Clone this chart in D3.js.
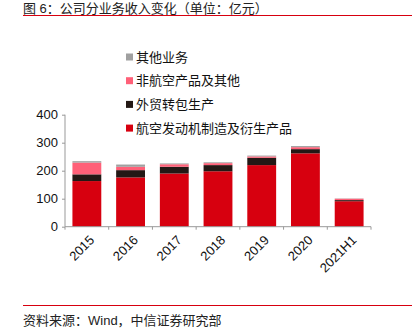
<!DOCTYPE html>
<html><head><meta charset="utf-8">
<script src="https://cdn.jsdelivr.net/npm/d3@7"></script>
<style>
html,body{margin:0;padding:0;background:#fff;}
svg{display:block;font-family:"Liberation Sans",Arial,"Noto Sans CJK SC",sans-serif;}
</style></head>
<body>
<script>
const categories = ["2015","2016","2017","2018","2019","2020","2021H1"];
const seriesNames = ["航空发动机制造及衍生产品","外贸转包生产","非航空产品及其他","其他业务"];
const aeroEngine = [163, 176, 190, 198, 220, 262, 91];
const exportSub = [24, 26, 24, 22, 26, 15, 4];
const nonAero = [42, 12, 9, 7, 5, 7, 5];
const otherBiz = [5, 8, 3, 3, 3, 4, 1];
const colors = ["#d7000f", "#231815", "#ff6078", "#a0a0a0"];
const yTicks = [0, 100, 200, 300, 400];
const titleText = "图 6：公司分业务收入变化（单位：亿元）";
const sourceText = "资料来源：Wind，中信证券研究部";

const W = 418, H = 331;
const svg = d3.select("body").append("svg").attr("width", W).attr("height", H);

// title & rules
svg.append("text").attr("x", 23).attr("y", 13).attr("font-size", 13).attr("fill", "#222").text(titleText);
svg.append("line").attr("x1", 23).attr("x2", 412).attr("y1", 15.5).attr("y2", 15.5).attr("stroke", "#d7000f").attr("stroke-width", 1);
svg.append("line").attr("x1", 23).attr("x2", 412).attr("y1", 305.5).attr("y2", 305.5).attr("stroke", "#d7000f").attr("stroke-width", 1);
svg.append("text").attr("x", 23).attr("y", 325).attr("font-size", 13).attr("fill", "#222").text(sourceText);

const x = d3.scaleBand().domain(categories).range([65, 371]).paddingInner(0.34).paddingOuter(0.17);
const y = d3.scaleLinear().domain([0, 400]).range([226.7, 114.7]);

const rows = categories.map((c, i) => ({cat: c, s0: aeroEngine[i], s1: exportSub[i], s2: nonAero[i], s3: otherBiz[i]}));
const stack = d3.stack().keys(["s0","s1","s2","s3"])(rows);

svg.append("g").selectAll("g").data(stack).join("g").attr("fill", (d, i) => colors[i])
  .selectAll("rect").data(d => d).join("rect")
  .attr("x", d => x(d.data.cat)).attr("width", x.bandwidth())
  .attr("y", d => y(d[1])).attr("height", d => y(d[0]) - y(d[1]));

// y axis
const yAxis = svg.append("g").attr("transform", "translate(65,0)")
  .call(d3.axisLeft(y).tickValues(yTicks).tickSize(3).tickPadding(4).tickFormat(d3.format("d")));
yAxis.select(".domain").attr("stroke", "#999").attr("d", "M0," + y(0) + "V" + y(400));
yAxis.selectAll(".tick line").attr("stroke", "#999");
yAxis.selectAll(".tick text").attr("font-size", 13).attr("fill", "#111").attr("font-family", "'Liberation Sans',Arial,sans-serif");

// x axis baseline & ticks at band boundaries
const xg = svg.append("g");
xg.append("line").attr("x1", 65).attr("x2", 371).attr("y1", y(0)).attr("y2", y(0)).attr("stroke", "#999");
const step = x.step();
const bounds = d3.range(categories.length + 1).map(i => 65 + i * step);
xg.selectAll("line.t").data(bounds).join("line").attr("class", "t")
  .attr("x1", d => d).attr("x2", d => d).attr("y1", y(0)).attr("y2", y(0) + 3).attr("stroke", "#999");
xg.selectAll("text").data(categories).join("text")
  .attr("transform", d => "translate(" + (x(d) + x.bandwidth() / 2 + 5) + "," + (y(0) + 11) + ") rotate(-45)")
  .attr("text-anchor", "end").attr("dy", "0.35em").attr("font-size", 13).attr("fill", "#111")
  .text(d => d);

// legend (top to bottom: reverse order)
const legendItems = seriesNames.map((n, i) => ({name: n, color: colors[i]})).reverse();
const lg = svg.append("g");
legendItems.forEach((d, i) => {
  const cy = 57 + i * 23.7;
  lg.append("rect").attr("x", 126).attr("y", cy - 3.5).attr("width", 7).attr("height", 7).attr("fill", d.color);
  lg.append("text").attr("x", 136).attr("y", cy).attr("dy", "0.35em").attr("font-size", 13).attr("fill", "#111").text(d.name);
});
</script>
</body></html>
